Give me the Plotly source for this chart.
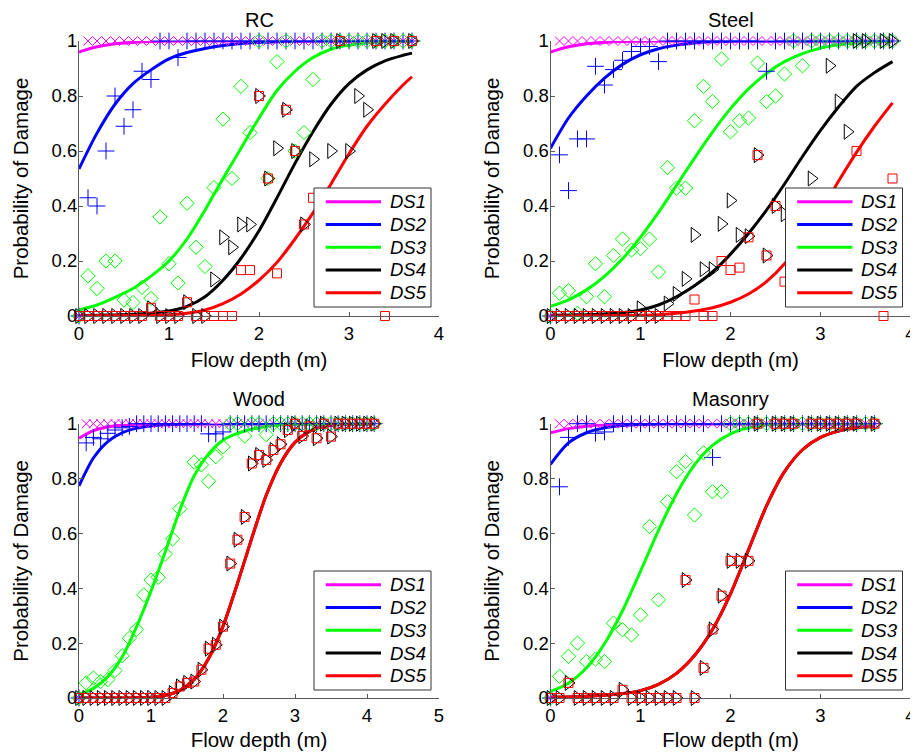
import plotly.graph_objects as go

# ---------------- observed data (flow depth grid + damage ratios) ----------------
RC_DEPTH = [0.0, 0.1, 0.2, 0.3, 0.4, 0.5, 0.6, 0.7, 0.8, 0.9,
            1.0, 1.1, 1.2, 1.3, 1.4, 1.5, 1.6, 1.7, 1.8, 1.9,
            2.0, 2.1, 2.2, 2.3, 2.4, 2.5, 2.6, 2.7, 2.8, 2.9,
            3.0, 3.1, 3.2, 3.3, 3.4, 3.5, 3.6, 3.7]
RC_OBS_DS1 = [0, 1, 1, 1, 1, 1, 1, 1, 1, 1,
              1, 1, 1, 1, 1, 1, 1, 1, 1, 1,
              1, 1, 1, 1, 1, 1, 1, 1, 1, 1,
              1, 1, 1, 1, 1, 1, 1, 1]
RC_OBS_DS2 = [0, 0.43, 0.40, 0.60, 0.80, 0.69, 0.75, 0.89, 0.86, 1,
              1, 0.94, 1, 1, 1, 1, 1, 1, 1, 1,
              1, 1, 1, 1, 1, 1, 1, 1, 1, 1,
              1, 1, 1, 1, 1, 1, 1, 1]
RC_OBS_DS3 = [0, 0.146, 0.10, 0.20, 0.20, 0.058, 0.049, 0.104, 0.064, 0.36,
              0.19, 0.12, 0.41, 0.25, 0.18, 0.467, 0.716, 0.50, 0.835, 0.667,
              1, 0.50, 0.925, 1, 0.60, 0.667, 0.86, 1, 1, 1,
              1, 1, 1, 1, 1, 1, 1, 1]
RC_OBS_DS4 = [0, 0, 0, 0, 0, 0, 0, 0, 0.028, 0,
              0, 0, 0.05, 0, 0, 0.133, 0.286, 0.25, 0.333, 0.333,
              0.80, 0.50, 0.61, 0.75, 0.60, 0.333, 0.57, None, 0.60, 1,
              0.60, 0.80, 0.75, 1, 1, 1, None, 1]
RC_OBS_DS5 = [0, 0, 0, 0, 0, 0, 0, 0, 0.03, 0,
              0, 0, 0.05, 0, 0, 0, 0, 0, 0.167, 0.167,
              0.80, 0.50, 0.155, 0.75, 0.60, 0.333, 0.43, None, None, 1,
              None, None, None, 1, 0, 1, None, 1]

ST_DEPTH = [0.0, 0.1, 0.2, 0.3, 0.4, 0.5, 0.6, 0.7, 0.8, 0.9,
            1.0, 1.1, 1.2, 1.3, 1.4, 1.5, 1.6, 1.7, 1.8, 1.9,
            2.0, 2.1, 2.2, 2.3, 2.4, 2.5, 2.6, 2.7, 2.8, 2.9,
            3.0, 3.1, 3.2, 3.3, 3.4, 3.5, 3.6, 3.7, 3.8]
ST_OBS_DS1 = [0, 1, 1, 1, 1, 1, 1, 1, 1, 1,
              1, 1, 1, 1, 1, 1, 1, 1, 1, 1,
              1, 1, 1, 1, 1, 1, 1, 1, 1, 1,
              1, 1, 1, 1, 1, 1, 1, 1, 1]
ST_OBS_DS2 = [0, 0.586, 0.456, 0.644, 0.644, 0.908, 0.84, 0.896, 0.93, 0.962,
              0.98, 0.98, 0.925, 1, 1, 1, 1, 1, 1, 1,
              1, 1, 1, 1, 0.89, 1, 1, 1, 1, 1,
              1, 1, 1, 1, 1, 1, 1, 1, 1]
ST_OBS_DS3 = [0, 0.083, 0.092, 0.01, 0.07, 0.19, 0.07, 0.22, 0.28, 0.24,
              0.245, 0.28, 0.16, 0.54, 0.465, 0.465, 0.71, 0.835, 0.78, 0.935,
              0.67, 0.71, 0.72, 0.92, 0.78, 0.80, 0.88, 1, 0.91, 1,
              1, 1, 1, 1, 1, 1, 1, 1, 1]
ST_OBS_DS4 = [0, 0, 0, 0, 0, 0, 0, 0, 0, 0,
              0.028, 0, 0, 0.045, 0.08, 0.135, 0.295, 0.17, 0.17, 0.335,
              0.42, 0.295, 0.29, 0.585, 0.22, 0.40, 0.37, None, None, 0.50,
              None, 0.91, 0.78, 0.67, 1, 1, None, 1, 1]
ST_OBS_DS5 = [0, 0, 0, 0, 0, 0, 0, 0, 0, 0,
              0, 0, 0, 0, 0, 0, 0.06, 0, 0, 0.20,
              0.167, 0.176, 0.286, 0.585, 0.22, 0.40, 0.125, None, None, None,
              None, None, None, None, 0.60, None, None, 0, 0.50]

WD_DEPTH = [0.0, 0.1, 0.2, 0.3, 0.4, 0.5, 0.6, 0.7, 0.8, 0.9,
            1.0, 1.1, 1.2, 1.3, 1.4, 1.5, 1.6, 1.7, 1.8, 1.9,
            2.0, 2.1, 2.2, 2.3, 2.4, 2.5, 2.6, 2.7, 2.8, 2.9,
            3.0, 3.1, 3.2, 3.3, 3.4, 3.5, 3.6, 3.7, 3.8, 3.9,
            4.0, 4.1]
WD_OBS_DS1 = [0, 1, 1, 1, 1, 1, 1, 1, 1, 1,
              1, 1, 1, 1, 1, 1, 1, 1, 1, 1,
              1, 1, 1, 1, 1, 1, 1, 1, 1, 1,
              1, 1, 1, 1, 1, 1, 1, 1, 1, 1,
              1, 1]
WD_OBS_DS2 = [0, 0.93, 0.95, 0.945, 0.965, 0.977, 0.985, 0.99, 1, 1,
              1, 1, 1, 1, 1, 1, 1, 1, 0.963, 0.963,
              0.97, 1, 1, 1, 1, 1, 1, 1, 1, 1,
              1, 1, 1, 1, 1, 1, 1, 1, 1, 1,
              1, 1]
WD_OBS_DS3 = [0, 0.055, 0.073, 0.06, 0.067, 0.10, 0.154, 0.218, 0.25, 0.376,
              0.43, 0.44, 0.525, 0.58, 0.69, None, 0.86, 0.85, 0.79, 0.88,
              0.916, 1, 1, 0.955, 1, 1, 0.96, 1, 1, 1,
              1, 1, 1, 1, 1, 1, 1, 1, 1, 1,
              1, 1]
WD_OBS_DS4 = [0, 0, 0, 0, 0, 0, 0, 0, 0, 0,
              0, 0, 0, 0.018, 0.042, 0.055, 0.06, 0.103, 0.18, 0.194,
              0.26, 0.49, 0.577, 0.66, 0.855, 0.886, 0.868, 0.904, 0.925, 0.977,
              1, 0.955, 0.99, 0.947, 1, 0.953, 1, 1, 1, 1,
              1, 1]
WD_OBS_DS5 = [0, 0, 0, 0, 0, 0, 0, 0, 0, 0,
              0, 0, 0, 0.018, 0.042, 0.055, 0.06, 0.103, 0.18, 0.194,
              0.26, 0.49, 0.577, 0.66, 0.855, 0.886, 0.868, 0.904, 0.925, 0.977,
              1, 0.955, 0.99, 0.947, 1, 0.953, 1, 1, 1, 1,
              1, 1]

MS_DEPTH = [0.0, 0.1, 0.2, 0.3, 0.4, 0.5, 0.6, 0.7, 0.8, 0.9,
            1.0, 1.1, 1.2, 1.3, 1.4, 1.5, 1.6, 1.7, 1.8, 1.9,
            2.0, 2.1, 2.2, 2.3, 2.4, 2.5, 2.6, 2.7, 2.8, 2.9,
            3.0, 3.1, 3.2, 3.3, 3.4, 3.5, 3.6]
MS_OBS_DS1 = [0, 1, 1, 1, 1, 1, 1, 1, 1, 1,
              1, 1, 1, 1, 1, 1, 1, 1, 1, 1,
              1, 1, 1, 1, 1, 1, 1, 1, 1, 1,
              1, 1, 1, 1, 1, 1, 1]
MS_OBS_DS2 = [0, 0.77, 0.95, 1, 1, 0.965, 0.97, 1, 1, 1,
              1, 1, 1, 1, 1, 1, 1, 1, 0.877, 1,
              1, 1, 1, 1, 1, 1, 1, 1, 1, 1,
              1, 1, 1, 1, 1, 1, 1]
MS_OBS_DS3 = [0, 0.079, 0.152, 0.20, 0.133, 0.142, 0.133, 0.273, 0.249, 0.23,
              0.303, 0.625, 0.358, 0.716, 0.825, 0.862, 0.667, 0.894, 0.752, 0.752,
              1, 1, 1, 1, 1, 1, 1, 1, 1, 1,
              1, 1, 1, 1, 1, 1, 1]
MS_OBS_DS4 = [0, 0, 0.055, 0, 0, 0, 0, 0, 0.03, 0,
              0, 0, 0, 0, 0, 0.43, 0, 0.11, 0.25, 0.373,
              0.50, 0.50, 0.50, 1, None, 1, 1, 1, None, 1,
              1, 1, 1, 1, 1, None, 1]
MS_OBS_DS5 = [0, 0, 0.055, 0, 0, 0, 0, 0, 0.03, 0,
              0, 0, 0, 0, 0, 0.43, 0, 0.11, 0.25, 0.373,
              0.50, 0.50, 0.50, 1, None, 1, 1, 1, None, 1,
              1, 1, 1, 1, 1, None, 1]

# ---------------- fitted fragility curves ----------------
RC_CURVE_X = [0.0, 0.2, 0.4, 0.6, 0.8, 1.0, 1.2, 1.4, 1.6, 1.8,
              2.0, 2.2, 2.4, 2.6, 2.8, 3.0, 3.2, 3.4, 3.6, 3.7]
RC_FIT_DS1 = [0.960, 0.979, 0.990, 0.995, 0.998, 0.999, 1, 1, 1, 1,
              1, 1, 1, 1, 1, 1, 1, 1, 1, 1]
RC_FIT_DS2 = [0.535, 0.665, 0.770, 0.845, 0.895, 0.935, 0.958, 0.973, 0.984, 0.991,
              0.995, 0.997, 0.999, 1, 1, 1, 1, 1, 1, 1]
RC_FIT_DS3 = [0.022, 0.040, 0.068, 0.100, 0.145, 0.200, 0.280, 0.385, 0.500, 0.610,
              0.720, 0.820, 0.890, 0.940, 0.970, 0.985, 0.993, 0.997, 0.999, 1.0]
RC_FIT_DS4 = [0.002, 0.003, 0.004, 0.006, 0.010, 0.018, 0.035, 0.070, 0.130, 0.210,
              0.310, 0.430, 0.555, 0.670, 0.770, 0.845, 0.895, 0.928, 0.948, 0.956]
RC_FIT_DS5 = [0.001, 0.001, 0.001, 0.002, 0.003, 0.005, 0.010, 0.022, 0.045, 0.080,
              0.130, 0.195, 0.280, 0.375, 0.480, 0.590, 0.690, 0.770, 0.840, 0.870]

ST_CURVE_X = [0.0, 0.2, 0.4, 0.6, 0.8, 1.0, 1.2, 1.4, 1.6, 1.8,
              2.0, 2.2, 2.4, 2.6, 2.8, 3.0, 3.2, 3.4, 3.6, 3.8]
ST_FIT_DS1 = [0.960, 0.979, 0.990, 0.995, 0.998, 0.999, 1, 1, 1, 1,
              1, 1, 1, 1, 1, 1, 1, 1, 1, 1]
ST_FIT_DS2 = [0.610, 0.720, 0.800, 0.865, 0.915, 0.950, 0.972, 0.985, 0.993, 0.997,
              0.999, 1, 1, 1, 1, 1, 1, 1, 1, 1]
ST_FIT_DS3 = [0.035, 0.059, 0.095, 0.144, 0.208, 0.287, 0.377, 0.475, 0.574, 0.669,
              0.754, 0.826, 0.882, 0.925, 0.954, 0.974, 0.986, 0.993, 0.996, 0.998]
ST_FIT_DS4 = [0.003, 0.004, 0.005, 0.007, 0.012, 0.022, 0.040, 0.070, 0.110, 0.160,
              0.225, 0.300, 0.385, 0.480, 0.580, 0.675, 0.760, 0.835, 0.885, 0.925]
ST_FIT_DS5 = [0.000, 0.000, 0.001, 0.001, 0.002, 0.003, 0.005, 0.010, 0.018, 0.030,
              0.050, 0.080, 0.125, 0.190, 0.280, 0.380, 0.490, 0.595, 0.690, 0.775]

WD_CURVE_X = [0.0, 0.2, 0.4, 0.6, 0.8, 1.0, 1.2, 1.4, 1.6, 1.8,
              2.0, 2.2, 2.4, 2.6, 2.8, 3.0, 3.2, 3.4, 3.6, 3.8,
              4.0, 4.1]
WD_FIT_DS1 = [0.947, 0.975, 0.988, 0.995, 0.998, 0.999, 1, 1, 1, 1,
              1, 1, 1, 1, 1, 1, 1, 1, 1, 1,
              1, 1]
WD_FIT_DS2 = [0.773, 0.875, 0.935, 0.967, 0.984, 0.992, 0.996, 0.998, 0.999, 1,
              1, 1, 1, 1, 1, 1, 1, 1, 1, 1,
              1, 1]
WD_FIT_DS3 = [0.012, 0.035, 0.078, 0.150, 0.260, 0.390, 0.535, 0.685, 0.810, 0.890,
              0.940, 0.965, 0.980, 0.990, 0.995, 0.998, 0.999, 1, 1, 1,
              1, 1]
WD_FIT_DS4 = [0.000, 0.000, 0.000, 0.000, 0.001, 0.003, 0.010, 0.028, 0.068, 0.144,
              0.261, 0.417, 0.583, 0.739, 0.856, 0.932, 0.972, 0.990, 0.997, 0.999,
              1.0, 1.0]
WD_FIT_DS5 = [0.000, 0.000, 0.000, 0.000, 0.001, 0.003, 0.010, 0.028, 0.068, 0.144,
              0.261, 0.417, 0.583, 0.739, 0.856, 0.932, 0.972, 0.990, 0.997, 0.999,
              1.0, 1.0]

MS_CURVE_X = [0.0, 0.2, 0.4, 0.6, 0.8, 1.0, 1.2, 1.4, 1.6, 1.8,
              2.0, 2.2, 2.4, 2.6, 2.8, 3.0, 3.2, 3.4, 3.6]
MS_FIT_DS1 = [0.967, 0.982, 0.991, 0.996, 0.998, 0.999, 1, 1, 1, 1,
              1, 1, 1, 1, 1, 1, 1, 1, 1]
MS_FIT_DS2 = [0.852, 0.930, 0.967, 0.985, 0.993, 0.997, 0.999, 1, 1, 1,
              1, 1, 1, 1, 1, 1, 1, 1, 1]
MS_FIT_DS3 = [0.024, 0.054, 0.110, 0.198, 0.318, 0.462, 0.611, 0.745, 0.850, 0.921,
              0.963, 0.985, 0.995, 0.998, 0.999, 1, 1, 1, 1]
MS_FIT_DS4 = [0.003, 0.004, 0.006, 0.010, 0.016, 0.027, 0.050, 0.090, 0.155, 0.250,
              0.380, 0.540, 0.700, 0.825, 0.905, 0.950, 0.973, 0.985, 0.990]
MS_FIT_DS5 = [0.003, 0.004, 0.006, 0.010, 0.016, 0.027, 0.050, 0.090, 0.155, 0.250,
              0.380, 0.540, 0.700, 0.825, 0.905, 0.950, 0.973, 0.985, 0.990]

PANEL_TITLES = ["RC", "Steel", "Wood", "Masonry"]
DS_NAMES = ["DS1", "DS2", "DS3", "DS4", "DS5"]
X_TICKS_STD = [0, 1, 2, 3, 4]
X_TICKS_WOOD = [0, 1, 2, 3, 4, 5]
Y_TICKS = [0, 0.2, 0.4, 0.6, 0.8, 1]

# ---------------- styling ----------------
# The page body has an 8px margin, so the figure is sized to fit the window
# and all positions below are given in window pixels (offset by PAGE_OFF).
PAGE_OFF = 8
W, H = 918 - PAGE_OFF, 755 - PAGE_OFF
COLORS = ["#FF00FF", "#0000FF", "#00FF00", "#000000", "#FF0000"]
SYMBOLS = ["x-thin-open", "cross-thin-open", "diamond-open", "triangle-right-open", "square-open"]
MSIZES = [9, 12, 11, 13, 9]
FONT = "Liberation Sans, Arial, sans-serif"
AXCOL = "#5a5a5a"

panels = [
    dict(depth=RC_DEPTH, obs=[RC_OBS_DS1, RC_OBS_DS2, RC_OBS_DS3, RC_OBS_DS4, RC_OBS_DS5],
         cx=RC_CURVE_X, fit=[RC_FIT_DS1, RC_FIT_DS2, RC_FIT_DS3, RC_FIT_DS4, RC_FIT_DS5],
         xticks=X_TICKS_STD, col=0, row=0),
    dict(depth=ST_DEPTH, obs=[ST_OBS_DS1, ST_OBS_DS2, ST_OBS_DS3, ST_OBS_DS4, ST_OBS_DS5],
         cx=ST_CURVE_X, fit=[ST_FIT_DS1, ST_FIT_DS2, ST_FIT_DS3, ST_FIT_DS4, ST_FIT_DS5],
         xticks=X_TICKS_STD, col=1, row=0),
    dict(depth=WD_DEPTH, obs=[WD_OBS_DS1, WD_OBS_DS2, WD_OBS_DS3, WD_OBS_DS4, WD_OBS_DS5],
         cx=WD_CURVE_X, fit=[WD_FIT_DS1, WD_FIT_DS2, WD_FIT_DS3, WD_FIT_DS4, WD_FIT_DS5],
         xticks=X_TICKS_WOOD, col=0, row=1),
    dict(depth=MS_DEPTH, obs=[MS_OBS_DS1, MS_OBS_DS2, MS_OBS_DS3, MS_OBS_DS4, MS_OBS_DS5],
         cx=MS_CURVE_X, fit=[MS_FIT_DS1, MS_FIT_DS2, MS_FIT_DS3, MS_FIT_DS4, MS_FIT_DS5],
         xticks=X_TICKS_STD, col=1, row=1),
]

# window-pixel geometry of plot areas
COL_X = [(79, 439), (550.5, 910.5)]
ROW_Y = [(41, 316), (423.7, 698)]


def px_x(p):
    return (p - PAGE_OFF) / W


def px_y(p):
    return 1 - (p - PAGE_OFF) / H


fig = go.Figure()
shapes = []
annotations = []

for k, p in enumerate(panels, start=1):
    sfx = "" if k == 1 else str(k)
    xa, ya = "x" + sfx, "y" + sfx
    # fitted curves first (legend order), markers on top
    for i in range(5):
        fig.add_trace(go.Scatter(
            x=p["cx"], y=p["fit"][i], mode="lines", name=DS_NAMES[i],
            line=dict(color=COLORS[i], width=3, shape="spline", smoothing=0.8),
            xaxis=xa, yaxis=ya, showlegend=False, hoverinfo="skip"))
    for i in range(5):
        fig.add_trace(go.Scatter(
            x=p["depth"], y=p["obs"][i], mode="markers", name=DS_NAMES[i] + " data",
            marker=dict(symbol=SYMBOLS[i], size=MSIZES[i], color=COLORS[i],
                        line=dict(color=COLORS[i], width=1)),
            xaxis=xa, yaxis=ya, showlegend=False, cliponaxis=False))

    x0, x1 = COL_X[p["col"]]
    y0, y1 = ROW_Y[p["row"]]
    axis_common = dict(showline=True, linecolor=AXCOL, linewidth=1, ticks="inside",
                       ticklen=4, tickwidth=1, tickcolor=AXCOL, showgrid=False,
                       zeroline=False, mirror=False, automargin=False,
                       tickfont=dict(family=FONT, size=18.5, color="black"))
    fig.layout["xaxis" + sfx] = dict(
        domain=[px_x(x0), px_x(x1)], anchor=ya, range=[0, p["xticks"][-1]],
        tickvals=p["xticks"], ticktext=[str(t) for t in p["xticks"]],
        ticklabelstandoff=1,
        title=dict(text="Flow depth (m)", font=dict(family=FONT, size=20.5, color="black"),
                   standoff=9 if p["row"] == 0 else 7),
        **axis_common)
    fig.layout["yaxis" + sfx] = dict(
        domain=[px_y(y1), px_y(y0)], anchor=xa, range=[0, 1],
        tickvals=Y_TICKS, ticktext=["0", "0.2", "0.4", "0.6", "0.8", "1"],
        ticklabelstandoff=-3,
        title=dict(text="Probability of Damage", font=dict(family=FONT, size=20.5, color="black"),
                   standoff=17),
        **axis_common)

    # panel title
    title_y = 20.5 if p["row"] == 0 else 399.2
    annotations.append(dict(text=PANEL_TITLES[k - 1], x=px_x((x0 + x1) / 2), y=px_y(title_y),
                            xref="paper", yref="paper", showarrow=False,
                            xanchor="center", yanchor="middle",
                            font=dict(family=FONT, size=20, color="black")))

    # legend box (drawn like the MATLAB legend)
    dx = x0 - COL_X[0][0]
    dy = 0 if p["row"] == 0 else 383
    shapes.append(dict(type="rect", xref="paper", yref="paper",
                       x0=px_x(314 + dx), x1=px_x(431 + dx),
                       y0=px_y(307 + dy), y1=px_y(188 + dy),
                       line=dict(color="#333333", width=1), fillcolor="white", layer="above"))
    entry_y = [201.7, 224.5, 247.3, 270.0, 292.7]
    for i in range(5):
        ey = entry_y[i] + dy
        shapes.append(dict(type="line", xref="paper", yref="paper",
                           x0=px_x(325.7 + dx), x1=px_x(381 + dx), y0=px_y(ey), y1=px_y(ey),
                           line=dict(color=COLORS[i], width=3), layer="above"))
        annotations.append(dict(text="<i>" + DS_NAMES[i] + "</i>", x=px_x(387.7 + dx), y=px_y(ey),
                                xref="paper", yref="paper", showarrow=False,
                                xanchor="left", yanchor="middle",
                                font=dict(family=FONT, size=18.5, color="black")))

fig.update_layout(
    width=W, height=H, margin=dict(l=0, r=0, t=0, b=0, autoexpand=False),
    paper_bgcolor="white", plot_bgcolor="white",
    showlegend=False, shapes=shapes, annotations=annotations,
    font=dict(family=FONT, color="black"),
)

fig.write_html("out.html")
